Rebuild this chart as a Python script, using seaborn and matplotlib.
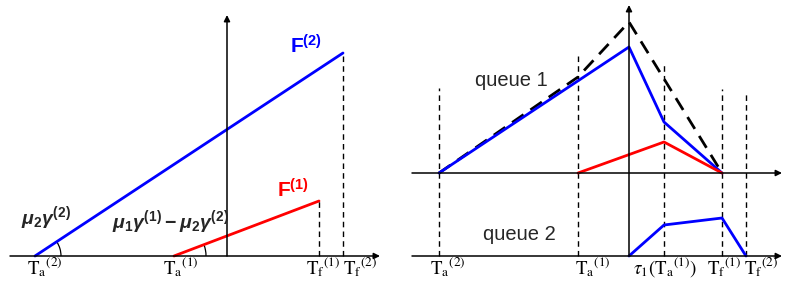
import matplotlib
matplotlib.use("Agg")
import matplotlib.pyplot as plt
from matplotlib.patches import Arc
import seaborn as sns
import numpy as np

# ---- left panel: cumulative curves F(1), F(2) ----
ta2_l, ta1_l, tf1_l, tf2_l = -1.92, -0.53, 0.92, 1.16
f2_x = [ta2_l, tf2_l]
f2_y = [0.0, 2.03]
f1_x = [ta1_l, tf1_l]
f1_y = [0.0, 0.55]
left_ticks = [ta2_l, ta1_l, tf1_l, tf2_l]
left_tick_labels = [r"$\mathrm{T}_{\mathrm{a}}{}^{(2)}$", r"$\mathrm{T}_{\mathrm{a}}{}^{(1)}$",
                    r"$\mathrm{T}_{\mathrm{f}}{}^{(1)}$", r"$\mathrm{T}_{\mathrm{f}}{}^{(2)}$"]

# ---- right panel: queue lengths ----
ta2, ta1, tau1, tf1, tf2 = -1.90, -0.51, 0.35, 0.93, 1.17
q1_base = 0.83
q1_blue_x = [ta2, 0.0, tau1, tf1]
q1_blue_y = [0.0, 1.26, 0.51, 0.0]
q1_total_x = [ta2, ta1, 0.0, tf1]
q1_total_y = [0.0, 0.96, 1.51, 0.0]
q1_red_x = [ta1, tau1, tf1]
q1_red_y = [0.0, 0.31, 0.0]
q2_blue_x = [0.0, tau1, tf1, tf2]
q2_blue_y = [0.0, 0.31, 0.38, 0.0]
right_ticks = [ta2, ta1, tau1, tf1, tf2]
right_vline_tops = [0.85, 1.19, 1.11, 0.84, 0.82]
right_tick_labels = [r"$\mathrm{T}_{\mathrm{a}}{}^{(2)}$", r"$\mathrm{T}_{\mathrm{a}}{}^{(1)}$",
                     r"$\tau_1(\mathrm{T}_{\mathrm{a}}{}^{(1)})$",
                     r"$\mathrm{T}_{\mathrm{f}}{}^{(1)}$", r"$\mathrm{T}_{\mathrm{f}}{}^{(2)}$"]

# label nudges (pixels/100) relative to each tick
left_label_dx = [-0.08, -0.11, -0.13, 0.0]
right_label_dx = [-0.09, -0.03, -0.31, -0.15, -0.02]

sns.set_theme(style="white")
plt.rcParams['font.family'] = ['Liberation Sans', 'DejaVu Sans']
plt.rcParams['mathtext.rm'] = 'Liberation Sans:bold'
plt.rcParams['mathtext.bf'] = 'Liberation Sans:bold'
plt.rcParams['mathtext.it'] = 'Liberation Sans:italic:bold'

BLUE = "#0000ff"
RED = "#ff0000"

fig = plt.figure(figsize=(7.85, 2.88), dpi=100)
axL = fig.add_axes([0, 0, 400 / 785, 1])
axR = fig.add_axes([400 / 785, 0, 385 / 785, 1])
axL.set_xlim(-2.27, 1.73)
axL.set_ylim(-0.32, 2.56)
axR.set_xlim(-2.29, 1.56)
axR.set_ylim(-0.32, 2.56)
for ax in (axL, axR):
    ax.axis("off")

arrow = dict(arrowstyle="-|>", color="black", lw=1.1, mutation_scale=9, shrinkA=0, shrinkB=0)

def axis_arrow(ax, x0, y0, x1, y1):
    ax.annotate("", xy=(x1, y1), xytext=(x0, y0), arrowprops=arrow)

def tick_label(ax, x, s):
    ax.text(x, -0.11, s, ha="left", va="center", fontsize=13.5,
            math_fontfamily="stix", color="black")

# left panel
axis_arrow(axL, -2.17, 0, 1.53, 0)
axis_arrow(axL, 0, 0, 0, 2.41)
sns.lineplot(x=f2_x, y=f2_y, ax=axL, color=BLUE, lw=2.0, estimator=None)
sns.lineplot(x=f1_x, y=f1_y, ax=axL, color=RED, lw=2.0, estimator=None)
axL.vlines([tf1_l, tf2_l], 0, [f1_y[-1], f2_y[-1]], colors="black", lw=1.0,
           linestyles=(0, (4, 3)))
for x, dx, s in zip(left_ticks, left_label_dx, left_tick_labels):
    tick_label(axL, x + dx, s)

# angle arcs
ang2 = np.degrees(np.arctan2(f2_y[1] - f2_y[0], f2_x[1] - f2_x[0]))
ang1 = np.degrees(np.arctan2(f1_y[1] - f1_y[0], f1_x[1] - f1_x[0]))
axL.add_patch(Arc((ta2_l, 0), 0.52, 0.52, theta1=0, theta2=ang2, color="black", lw=0.9))
axL.add_patch(Arc((ta1_l, 0), 0.64, 0.64, theta1=0, theta2=ang1, color="black", lw=0.9))

axL.text(0.63, 2.10, r"$\mathrm{F}^{(2)}$", color=BLUE, fontsize=15,
         math_fontfamily="custom", ha="left", va="center")
axL.text(0.50, 0.66, r"$\mathrm{F}^{(1)}$", color=RED, fontsize=15,
         math_fontfamily="custom", ha="left", va="center")
axL.text(-1.81, 0.38, r"$\mu_2\gamma^{(2)}$", fontsize=14,
         math_fontfamily="custom", ha="center", va="center")
axL.text(-0.57, 0.34, r"$\mu_1\gamma^{(1)}-\mu_2\gamma^{(2)}$", fontsize=14,
         math_fontfamily="custom", ha="center", va="center")

# right panel
axis_arrow(axR, -2.17, q1_base, 1.53, q1_base)
axis_arrow(axR, -2.17, 0, 1.53, 0)
axis_arrow(axR, 0, 0, 0, 2.51)
axR.vlines(right_ticks, 0, [q1_base + h for h in right_vline_tops], colors="black",
           lw=1.0, linestyles=(0, (4, 3)))
sns.lineplot(x=q1_total_x, y=[q1_base + v for v in q1_total_y], ax=axR, color="black",
             lw=2.0, linestyle=(0, (5, 3)), estimator=None)
sns.lineplot(x=q1_blue_x, y=[q1_base + v for v in q1_blue_y], ax=axR, color=BLUE,
             lw=2.0, estimator=None)
sns.lineplot(x=q1_red_x, y=[q1_base + v for v in q1_red_y], ax=axR, color=RED,
             lw=2.0, estimator=None)
sns.lineplot(x=q2_blue_x, y=q2_blue_y, ax=axR, color=BLUE, lw=2.0, estimator=None)
for x, dx, s in zip(right_ticks, right_label_dx, right_tick_labels):
    tick_label(axR, x + dx, s)
axR.text(-1.54, 1.76, "queue 1", fontsize=14.5, ha="left", va="center")
axR.text(-1.46, 0.21, "queue 2", fontsize=14.5, ha="left", va="center")

fig.savefig("out.png", dpi=100)
